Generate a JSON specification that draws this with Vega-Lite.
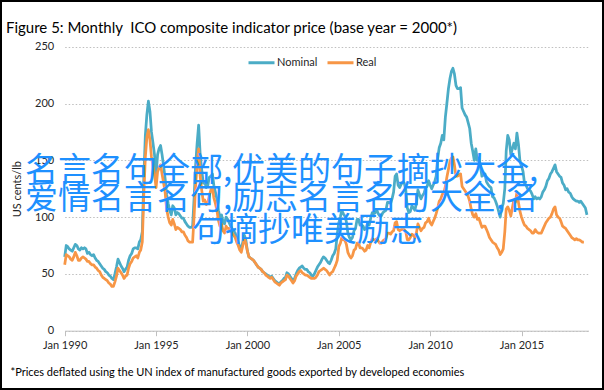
{
 "$schema": "https://vega.github.io/schema/vega-lite/v6.json",
 "width": 604, "height": 390,
 "autosize": {"type": "none"},
 "padding": 0,
 "background": "white",
 "config": {"view": {"stroke": "#000000", "strokeWidth": 4, "fill": "white"}, "font": "Lato"},
 "title": {"text": "Figure 5: Monthly\u00a0 ICO composite indicator price (base year = 2000*)", "anchor": "start", "frame": "group", "font": "Lato", "fontSize": 15, "fontWeight": "normal", "color": "#000000", "offset": 0, "dx": 6, "dy": 48, "baseline": "alphabetic"},
 "data": {"format": {"parse": {"d": "date:'%Y-%m'"}}, "values": [
{"d":"1990-01","Nominal":65,"Real":58},{"d":"1990-02","Nominal":75,"Real":67},{"d":"1990-03","Nominal":74,"Real":66},{"d":"1990-04","Nominal":72,"Real":65},{"d":"1990-05","Nominal":71,"Real":63},{"d":"1990-06","Nominal":70,"Real":62},{"d":"1990-07","Nominal":73,"Real":65},{"d":"1990-08","Nominal":76,"Real":69},{"d":"1990-09","Nominal":75,"Real":66},{"d":"1990-10","Nominal":72,"Real":62},{"d":"1990-11","Nominal":71,"Real":62},{"d":"1990-12","Nominal":73,"Real":64},
{"d":"1991-01","Nominal":72,"Real":65},{"d":"1991-02","Nominal":73,"Real":64},{"d":"1991-03","Nominal":72,"Real":63},{"d":"1991-04","Nominal":68,"Real":61},{"d":"1991-05","Nominal":69,"Real":61},{"d":"1991-06","Nominal":67,"Real":59},{"d":"1991-07","Nominal":66,"Real":58},{"d":"1991-08","Nominal":67,"Real":58},{"d":"1991-09","Nominal":64,"Real":56},{"d":"1991-10","Nominal":62,"Real":55},{"d":"1991-11","Nominal":61,"Real":53},{"d":"1991-12","Nominal":59,"Real":52},
{"d":"1992-01","Nominal":57,"Real":49},{"d":"1992-02","Nominal":55,"Real":47},{"d":"1992-03","Nominal":54,"Real":46},{"d":"1992-04","Nominal":52,"Real":45},{"d":"1992-05","Nominal":51,"Real":44},{"d":"1992-06","Nominal":49,"Real":42},{"d":"1992-07","Nominal":48,"Real":41},{"d":"1992-08","Nominal":46,"Real":39},{"d":"1992-09","Nominal":45,"Real":39},{"d":"1992-10","Nominal":50,"Real":43},{"d":"1992-11","Nominal":56,"Real":48},{"d":"1992-12","Nominal":63,"Real":55},
{"d":"1993-01","Nominal":60,"Real":53},{"d":"1993-02","Nominal":57,"Real":51},{"d":"1993-03","Nominal":55,"Real":49},{"d":"1993-04","Nominal":52,"Real":46},{"d":"1993-05","Nominal":54,"Real":48},{"d":"1993-06","Nominal":56,"Real":49},{"d":"1993-07","Nominal":62,"Real":55},{"d":"1993-08","Nominal":66,"Real":59},{"d":"1993-09","Nominal":68,"Real":61},{"d":"1993-10","Nominal":72,"Real":64},{"d":"1993-11","Nominal":73,"Real":65},{"d":"1993-12","Nominal":73,"Real":66},
{"d":"1994-01","Nominal":72,"Real":64},{"d":"1994-02","Nominal":78,"Real":69},{"d":"1994-03","Nominal":80,"Real":71},{"d":"1994-04","Nominal":87,"Real":78},{"d":"1994-05","Nominal":134,"Real":120},{"d":"1994-06","Nominal":172,"Real":153},{"d":"1994-07","Nominal":190,"Real":170},{"d":"1994-08","Nominal":202,"Real":177},{"d":"1994-09","Nominal":193,"Real":168},{"d":"1994-10","Nominal":175,"Real":153},{"d":"1994-11","Nominal":165,"Real":145},{"d":"1994-12","Nominal":155,"Real":138},
{"d":"1995-01","Nominal":137,"Real":126},{"d":"1995-02","Nominal":155,"Real":140},{"d":"1995-03","Nominal":160,"Real":143},{"d":"1995-04","Nominal":163,"Real":146},{"d":"1995-05","Nominal":155,"Real":138},{"d":"1995-06","Nominal":145,"Real":130},{"d":"1995-07","Nominal":134,"Real":122},{"d":"1995-08","Nominal":120,"Real":107},{"d":"1995-09","Nominal":112,"Real":100},{"d":"1995-10","Nominal":106,"Real":95},{"d":"1995-11","Nominal":102,"Real":93},{"d":"1995-12","Nominal":110,"Real":98},
{"d":"1996-01","Nominal":108,"Real":94},{"d":"1996-02","Nominal":102,"Real":89},{"d":"1996-03","Nominal":104,"Real":91},{"d":"1996-04","Nominal":103,"Real":90},{"d":"1996-05","Nominal":101,"Real":89},{"d":"1996-06","Nominal":99,"Real":87},{"d":"1996-07","Nominal":99,"Real":87},{"d":"1996-08","Nominal":96,"Real":84},{"d":"1996-09","Nominal":94,"Real":82},{"d":"1996-10","Nominal":92,"Real":79},{"d":"1996-11","Nominal":91,"Real":78},{"d":"1996-12","Nominal":91,"Real":78},
{"d":"1997-01","Nominal":92,"Real":78},{"d":"1997-02","Nominal":118,"Real":102},{"d":"1997-03","Nominal":145,"Real":127},{"d":"1997-04","Nominal":165,"Real":146},{"d":"1997-05","Nominal":181,"Real":160},{"d":"1997-06","Nominal":155,"Real":136},{"d":"1997-07","Nominal":142,"Real":124},{"d":"1997-08","Nominal":130,"Real":114},{"d":"1997-09","Nominal":131,"Real":115},{"d":"1997-10","Nominal":126,"Real":111},{"d":"1997-11","Nominal":128,"Real":113},{"d":"1997-12","Nominal":135,"Real":119},
{"d":"1998-01","Nominal":136,"Real":124},{"d":"1998-02","Nominal":138,"Real":126},{"d":"1998-03","Nominal":128,"Real":117},{"d":"1998-04","Nominal":122,"Real":112},{"d":"1998-05","Nominal":116,"Real":106},{"d":"1998-06","Nominal":106,"Real":97},{"d":"1998-07","Nominal":100,"Real":92},{"d":"1998-08","Nominal":102,"Real":94},{"d":"1998-09","Nominal":96,"Real":88},{"d":"1998-10","Nominal":94,"Real":86},{"d":"1998-11","Nominal":100,"Real":92},{"d":"1998-12","Nominal":98,"Real":90},
{"d":"1999-01","Nominal":95,"Real":90},{"d":"1999-02","Nominal":92,"Real":88},{"d":"1999-03","Nominal":90,"Real":86},{"d":"1999-04","Nominal":88,"Real":84},{"d":"1999-05","Nominal":86,"Real":82},{"d":"1999-06","Nominal":82,"Real":78},{"d":"1999-07","Nominal":78,"Real":75},{"d":"1999-08","Nominal":74,"Real":71},{"d":"1999-09","Nominal":72,"Real":69},{"d":"1999-10","Nominal":78,"Real":75},{"d":"1999-11","Nominal":84,"Real":81},{"d":"1999-12","Nominal":80,"Real":77},
{"d":"2000-01","Nominal":70,"Real":70},{"d":"2000-02","Nominal":65,"Real":65},{"d":"2000-03","Nominal":64,"Real":64},{"d":"2000-04","Nominal":63,"Real":63},{"d":"2000-05","Nominal":62,"Real":62},{"d":"2000-06","Nominal":60,"Real":60},{"d":"2000-07","Nominal":58,"Real":58},{"d":"2000-08","Nominal":56,"Real":56},{"d":"2000-09","Nominal":55,"Real":55},{"d":"2000-10","Nominal":54,"Real":54},{"d":"2000-11","Nominal":52,"Real":52},{"d":"2000-12","Nominal":51,"Real":51},
{"d":"2001-01","Nominal":50,"Real":49},{"d":"2001-02","Nominal":49,"Real":48},{"d":"2001-03","Nominal":48,"Real":47},{"d":"2001-04","Nominal":47,"Real":46},{"d":"2001-05","Nominal":48,"Real":47},{"d":"2001-06","Nominal":46,"Real":45},{"d":"2001-07","Nominal":44,"Real":43},{"d":"2001-08","Nominal":43,"Real":42},{"d":"2001-09","Nominal":42,"Real":41},{"d":"2001-10","Nominal":41,"Real":40},{"d":"2001-11","Nominal":43,"Real":42},{"d":"2001-12","Nominal":44,"Real":43},
{"d":"2002-01","Nominal":46,"Real":44},{"d":"2002-02","Nominal":47,"Real":45},{"d":"2002-03","Nominal":51,"Real":49},{"d":"2002-04","Nominal":50,"Real":48},{"d":"2002-05","Nominal":48,"Real":46},{"d":"2002-06","Nominal":46,"Real":44},{"d":"2002-07","Nominal":44,"Real":42},{"d":"2002-08","Nominal":46,"Real":44},{"d":"2002-09","Nominal":50,"Real":48},{"d":"2002-10","Nominal":53,"Real":50},{"d":"2002-11","Nominal":55,"Real":52},{"d":"2002-12","Nominal":56,"Real":53},
{"d":"2003-01","Nominal":57,"Real":51},{"d":"2003-02","Nominal":55,"Real":50},{"d":"2003-03","Nominal":54,"Real":49},{"d":"2003-04","Nominal":54,"Real":49},{"d":"2003-05","Nominal":52,"Real":48},{"d":"2003-06","Nominal":51,"Real":47},{"d":"2003-07","Nominal":49,"Real":46},{"d":"2003-08","Nominal":48,"Real":46},{"d":"2003-09","Nominal":50,"Real":46},{"d":"2003-10","Nominal":53,"Real":47},{"d":"2003-11","Nominal":56,"Real":49},{"d":"2003-12","Nominal":58,"Real":52},
{"d":"2004-01","Nominal":60,"Real":53},{"d":"2004-02","Nominal":63,"Real":54},{"d":"2004-03","Nominal":65,"Real":55},{"d":"2004-04","Nominal":64,"Real":54},{"d":"2004-05","Nominal":62,"Real":53},{"d":"2004-06","Nominal":60,"Real":51},{"d":"2004-07","Nominal":59,"Real":49},{"d":"2004-08","Nominal":62,"Real":51},{"d":"2004-09","Nominal":66,"Real":52},{"d":"2004-10","Nominal":68,"Real":55},{"d":"2004-11","Nominal":72,"Real":58},{"d":"2004-12","Nominal":85,"Real":62},
{"d":"2005-01","Nominal":95,"Real":74},{"d":"2005-02","Nominal":100,"Real":77},{"d":"2005-03","Nominal":106,"Real":82},{"d":"2005-04","Nominal":103,"Real":80},{"d":"2005-05","Nominal":101,"Real":80},{"d":"2005-06","Nominal":96,"Real":76},{"d":"2005-07","Nominal":86,"Real":69},{"d":"2005-08","Nominal":82,"Real":66},{"d":"2005-09","Nominal":80,"Real":64},{"d":"2005-10","Nominal":82,"Real":66},{"d":"2005-11","Nominal":88,"Real":71},{"d":"2005-12","Nominal":90,"Real":72},
{"d":"2006-01","Nominal":98,"Real":77},{"d":"2006-02","Nominal":98,"Real":77},{"d":"2006-03","Nominal":93,"Real":73},{"d":"2006-04","Nominal":93,"Real":73},{"d":"2006-05","Nominal":92,"Real":72},{"d":"2006-06","Nominal":89,"Real":70},{"d":"2006-07","Nominal":90,"Real":71},{"d":"2006-08","Nominal":95,"Real":75},{"d":"2006-09","Nominal":93,"Real":73},{"d":"2006-10","Nominal":99,"Real":78},{"d":"2006-11","Nominal":104,"Real":81},{"d":"2006-12","Nominal":103,"Real":80},
{"d":"2007-01","Nominal":104,"Real":80},{"d":"2007-02","Nominal":106,"Real":81},{"d":"2007-03","Nominal":103,"Real":79},{"d":"2007-04","Nominal":101,"Real":77},{"d":"2007-05","Nominal":101,"Real":77},{"d":"2007-06","Nominal":104,"Real":79},{"d":"2007-07","Nominal":105,"Real":80},{"d":"2007-08","Nominal":106,"Real":81},{"d":"2007-09","Nominal":113,"Real":86},{"d":"2007-10","Nominal":113,"Real":86},{"d":"2007-11","Nominal":112,"Real":85},{"d":"2007-12","Nominal":116,"Real":87},
{"d":"2008-01","Nominal":122,"Real":88},{"d":"2008-02","Nominal":136,"Real":95},{"d":"2008-03","Nominal":138,"Real":96},{"d":"2008-04","Nominal":128,"Real":89},{"d":"2008-05","Nominal":126,"Real":88},{"d":"2008-06","Nominal":129,"Real":89},{"d":"2008-07","Nominal":131,"Real":89},{"d":"2008-08","Nominal":130,"Real":89},{"d":"2008-09","Nominal":124,"Real":87},{"d":"2008-10","Nominal":108,"Real":80},{"d":"2008-11","Nominal":104,"Real":80},{"d":"2008-12","Nominal":105,"Real":82},
{"d":"2009-01","Nominal":110,"Real":85},{"d":"2009-02","Nominal":108,"Real":84},{"d":"2009-03","Nominal":106,"Real":82},{"d":"2009-04","Nominal":112,"Real":86},{"d":"2009-05","Nominal":124,"Real":94},{"d":"2009-06","Nominal":120,"Real":91},{"d":"2009-07","Nominal":116,"Real":88},{"d":"2009-08","Nominal":119,"Real":90},{"d":"2009-09","Nominal":121,"Real":91},{"d":"2009-10","Nominal":126,"Real":95},{"d":"2009-11","Nominal":127,"Real":96},{"d":"2009-12","Nominal":132,"Real":99},
{"d":"2010-01","Nominal":128,"Real":95},{"d":"2010-02","Nominal":125,"Real":93},{"d":"2010-03","Nominal":128,"Real":96},{"d":"2010-04","Nominal":131,"Real":99},{"d":"2010-05","Nominal":136,"Real":103},{"d":"2010-06","Nominal":152,"Real":108},{"d":"2010-07","Nominal":161,"Real":114},{"d":"2010-08","Nominal":165,"Real":116},{"d":"2010-09","Nominal":172,"Real":120},{"d":"2010-10","Nominal":168,"Real":121},{"d":"2010-11","Nominal":188,"Real":127},{"d":"2010-12","Nominal":200,"Real":135},
{"d":"2011-01","Nominal":213,"Real":142},{"d":"2011-02","Nominal":222,"Real":149},{"d":"2011-03","Nominal":228,"Real":152},{"d":"2011-04","Nominal":231,"Real":153},{"d":"2011-05","Nominal":226,"Real":146},{"d":"2011-06","Nominal":216,"Real":136},{"d":"2011-07","Nominal":213,"Real":136},{"d":"2011-08","Nominal":213,"Real":137},{"d":"2011-09","Nominal":214,"Real":138},{"d":"2011-10","Nominal":196,"Real":127},{"d":"2011-11","Nominal":193,"Real":125},{"d":"2011-12","Nominal":190,"Real":123},
{"d":"2012-01","Nominal":188,"Real":121},{"d":"2012-02","Nominal":183,"Real":118},{"d":"2012-03","Nominal":178,"Real":114},{"d":"2012-04","Nominal":165,"Real":107},{"d":"2012-05","Nominal":158,"Real":102},{"d":"2012-06","Nominal":150,"Real":100},{"d":"2012-07","Nominal":160,"Real":103},{"d":"2012-08","Nominal":150,"Real":98},{"d":"2012-09","Nominal":152,"Real":99},{"d":"2012-10","Nominal":145,"Real":95},{"d":"2012-11","Nominal":136,"Real":91},{"d":"2012-12","Nominal":137,"Real":92},
{"d":"2013-01","Nominal":138,"Real":92},{"d":"2013-02","Nominal":131,"Real":89},{"d":"2013-03","Nominal":129,"Real":86},{"d":"2013-04","Nominal":127,"Real":82},{"d":"2013-05","Nominal":126,"Real":80},{"d":"2013-06","Nominal":118,"Real":78},{"d":"2013-07","Nominal":117,"Real":77},{"d":"2013-08","Nominal":114,"Real":76},{"d":"2013-09","Nominal":110,"Real":73},{"d":"2013-10","Nominal":105,"Real":71},{"d":"2013-11","Nominal":100,"Real":67},{"d":"2013-12","Nominal":108,"Real":69},
{"d":"2014-01","Nominal":112,"Real":72},{"d":"2014-02","Nominal":125,"Real":87},{"d":"2014-03","Nominal":158,"Real":107},{"d":"2014-04","Nominal":172,"Real":109},{"d":"2014-05","Nominal":168,"Real":106},{"d":"2014-06","Nominal":155,"Real":101},{"d":"2014-07","Nominal":160,"Real":108},{"d":"2014-08","Nominal":165,"Real":115},{"d":"2014-09","Nominal":160,"Real":113},{"d":"2014-10","Nominal":174,"Real":122},{"d":"2014-11","Nominal":164,"Real":113},{"d":"2014-12","Nominal":149,"Real":105},
{"d":"2015-01","Nominal":145,"Real":100},{"d":"2015-02","Nominal":140,"Real":96},{"d":"2015-03","Nominal":130,"Real":93},{"d":"2015-04","Nominal":128,"Real":92},{"d":"2015-05","Nominal":125,"Real":90},{"d":"2015-06","Nominal":124,"Real":89},{"d":"2015-07","Nominal":123,"Real":88},{"d":"2015-08","Nominal":120,"Real":86},{"d":"2015-09","Nominal":116,"Real":86},{"d":"2015-10","Nominal":118,"Real":89},{"d":"2015-11","Nominal":116,"Real":87},{"d":"2015-12","Nominal":117,"Real":86},
{"d":"2016-01","Nominal":116,"Real":86},{"d":"2016-02","Nominal":118,"Real":86},{"d":"2016-03","Nominal":122,"Real":89},{"d":"2016-04","Nominal":124,"Real":92},{"d":"2016-05","Nominal":127,"Real":95},{"d":"2016-06","Nominal":132,"Real":97},{"d":"2016-07","Nominal":134,"Real":99},{"d":"2016-08","Nominal":138,"Real":100},{"d":"2016-09","Nominal":140,"Real":103},{"d":"2016-10","Nominal":143,"Real":107},{"d":"2016-11","Nominal":146,"Real":109},{"d":"2016-12","Nominal":140,"Real":102},
{"d":"2017-01","Nominal":138,"Real":100},{"d":"2017-02","Nominal":136,"Real":99},{"d":"2017-03","Nominal":135,"Real":96},{"d":"2017-04","Nominal":130,"Real":92},{"d":"2017-05","Nominal":128,"Real":91},{"d":"2017-06","Nominal":124,"Real":90},{"d":"2017-07","Nominal":125,"Real":88},{"d":"2017-08","Nominal":122,"Real":86},{"d":"2017-09","Nominal":121,"Real":84},{"d":"2017-10","Nominal":118,"Real":82},{"d":"2017-11","Nominal":116,"Real":81},{"d":"2017-12","Nominal":115,"Real":80},
{"d":"2018-01","Nominal":114,"Real":81},{"d":"2018-02","Nominal":114,"Real":80},{"d":"2018-03","Nominal":113,"Real":80},{"d":"2018-04","Nominal":114,"Real":79},{"d":"2018-05","Nominal":112,"Real":78},{"d":"2018-06","Nominal":110,"Real":78},{"d":"2018-07","Nominal":108,"Real":null},{"d":"2018-08","Nominal":102,"Real":null}
 ]},
 "layer": [
  {
   "transform": [{"fold": ["Nominal", "Real"], "as": ["series", "value"]}],
   "mark": {"type": "line", "strokeWidth": 2.75, "strokeJoin": "round"},
   "encoding": {
    "x": {"field": "d", "type": "temporal",
      "scale": {"domain": [{"year": 1990, "month": 1, "date": 1}, {"year": 2018, "month": 9, "date": 1}], "range": [64.7, 588.5]},
      "axis": {"title": "*Prices deflated using the UN index of manufactured goods exported by developed economies",
        "offset": -59.3, "grid": false, "format": "%b %Y", "labelOverlap": false, "labelFlush": false,
        "values": [{"year": 1990, "month": 1, "date": 1}, {"year": 1995, "month": 1, "date": 1}, {"year": 2000, "month": 1, "date": 1}, {"year": 2005, "month": 1, "date": 1}, {"year": 2010, "month": 1, "date": 1}, {"year": 2015, "month": 1, "date": 1}],
        "domainColor": "#BFBFBF", "domainWidth": 1, "tickColor": "#BFBFBF", "tickSize": 5, "tickWidth": 1,
        "labelFont": "Lato", "labelFontSize": 11, "labelColor": "#262626", "labelPadding": 4,
        "titleFont": "Lato", "titleFontSize": 11, "titleFontWeight": "normal", "titleColor": "#000000",
        "titleX": 10, "titleY": 45, "titleAlign": "left", "titleAnchor": "start", "titleBaseline": "alphabetic"}},
    "y": {"field": "value", "type": "quantitative",
      "scale": {"domain": [0, 250], "range": [330.7, 46.7], "nice": false},
      "axis": {"title": "US cents/lb", "offset": -64.7, "values": [0, 50, 100, 150, 200, 250],
        "domain": false, "ticks": false, "grid": true, "gridColor": "#BFBFBF", "gridDash": [1.5, 2], "gridWidth": 1.2,
        "labelFont": "Lato", "labelFontSize": 11, "labelColor": "#262626", "labelPadding": 11,
        "titleFont": "Lato", "titleFontSize": 11, "titleFontWeight": "normal", "titleColor": "#262626",
        "titleX": -47.2, "titleBaseline": "middle"}},
    "color": {"field": "series", "type": "nominal",
      "scale": {"domain": ["Nominal", "Real"], "range": ["#4BACC6", "#F79646"]},
      "legend": {"title": null, "orient": "none", "legendX": 247, "legendY": 48, "direction": "horizontal",
        "symbolType": "stroke", "symbolSize": 676, "symbolStrokeWidth": 3, "labelFont": "Lato", "labelFontSize": 11,
        "labelColor": "#262626", "labelOffset": 1, "columnPadding": 3}}
   }
  },
  {
   "data": {"values": [{"line": "名言名句全部,优美的句子摘抄大全,"}]},
   "mark": {"type": "text", "align": "left", "baseline": "middle", "font": "Noto Sans CJK SC", "fontSize": 33, "color": "#1E90FF"},
   "encoding": {"text": {"field": "line"}, "x": {"datum": {"year": 1987, "month": 10, "date": 29}, "type": "temporal"}, "y": {"datum": 141, "type": "quantitative"}}
  },
  {
   "data": {"values": [{"line": "爱情名言名句,励志名言名句大全,名"}]},
   "mark": {"type": "text", "align": "left", "baseline": "middle", "font": "Noto Sans CJK SC", "fontSize": 33, "color": "#1E90FF"},
   "encoding": {"text": {"field": "line"}, "x": {"datum": {"year": 1987, "month": 10, "date": 29}, "type": "temporal"}, "y": {"datum": 115.5, "type": "quantitative"}}
  },
  {
   "data": {"values": [{"line": "句摘抄唯美励志"}]},
   "mark": {"type": "text", "align": "left", "baseline": "middle", "font": "Noto Sans CJK SC", "fontSize": 33, "color": "#1E90FF"},
   "encoding": {"text": {"field": "line"}, "x": {"datum": {"year": 1996, "month": 12, "date": 20}, "type": "temporal"}, "y": {"datum": 87.7, "type": "quantitative"}}
  }
 ]
}
